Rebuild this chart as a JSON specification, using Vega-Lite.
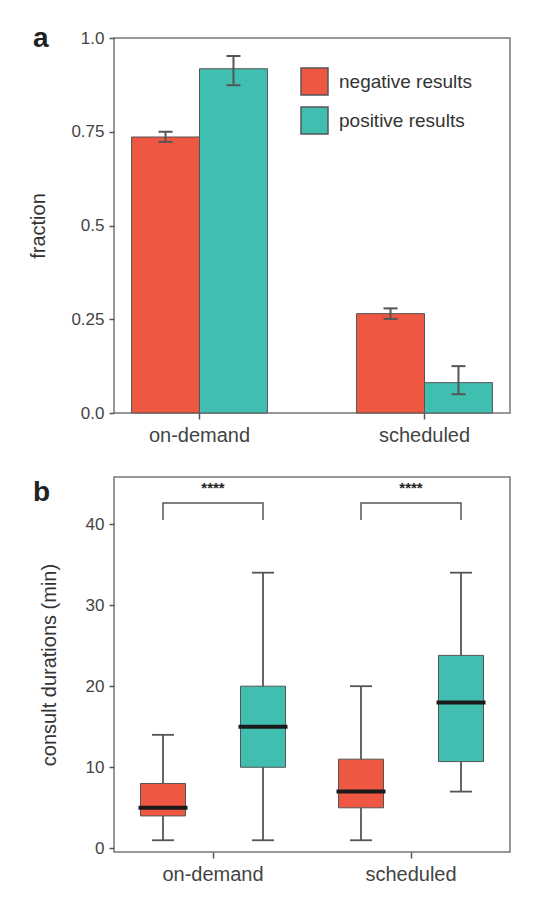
{
  "$schema": "https://vega.github.io/schema/vega-lite/v6.json",
  "padding": {"left": 28, "top": 24, "right": 0, "bottom": 0},
  "background": "white",
  "config": {
    "font": "Liberation Sans",
    "view": {"stroke": "#777", "strokeWidth": 1.5},
    "axis": {"grid": false, "domain": false, "tickColor": "#555", "tickWidth": 1.5, "labelColor": "#444", "titleColor": "#333", "titleFontWeight": "normal"},
    "title": {"color": "#222", "fontWeight": "bold", "anchor": "start", "frame": "group", "baseline": "alphabetic", "offset": 0}
  },
  "datasets": {
    "frac": [
      {"group": "on-demand", "result": "negative results", "fraction": 0.736, "lo": 0.723, "hi": 0.750},
      {"group": "on-demand", "result": "positive results", "fraction": 0.918, "lo": 0.874, "hi": 0.952},
      {"group": "scheduled", "result": "negative results", "fraction": 0.265, "lo": 0.251, "hi": 0.279},
      {"group": "scheduled", "result": "positive results", "fraction": 0.081, "lo": 0.050, "hi": 0.125}
    ],
    "dur": [
      {"group": "on-demand", "result": "negative results", "min": 1, "q1": 4, "median": 5, "q3": 8, "max": 14},
      {"group": "on-demand", "result": "positive results", "min": 1, "q1": 10, "median": 15, "q3": 20, "max": 34},
      {"group": "scheduled", "result": "negative results", "min": 1, "q1": 5, "median": 7, "q3": 11, "max": 20},
      {"group": "scheduled", "result": "positive results", "min": 7, "q1": 10.7, "median": 18, "q3": 23.8, "max": 34}
    ],
    "bracket": [
      {"group": "on-demand", "result": "negative results", "y": 40.5, "ord": 1},
      {"group": "on-demand", "result": "negative results", "y": 42.6, "ord": 2},
      {"group": "on-demand", "result": "positive results", "y": 42.6, "ord": 3},
      {"group": "on-demand", "result": "positive results", "y": 40.5, "ord": 4},
      {"group": "scheduled", "result": "negative results", "y": 40.5, "ord": 1},
      {"group": "scheduled", "result": "negative results", "y": 42.6, "ord": 2},
      {"group": "scheduled", "result": "positive results", "y": 42.6, "ord": 3},
      {"group": "scheduled", "result": "positive results", "y": 40.5, "ord": 4}
    ],
    "signif": [
      {"group": "on-demand", "label": "****", "y": 43.8},
      {"group": "scheduled", "label": "****", "y": 43.8}
    ]
  },
  "resolve": {"scale": {"color": "independent", "x": "independent", "y": "independent", "xOffset": "independent"}, "legend": {"color": "independent"}},
  "spacing": 30,
  "vconcat": [
    {
      "width": 396,
      "height": 375,
      "title": {"text": "a", "fontSize": 28, "dy": 28, "dx": -81},
      "data": {"name": "frac"},
      "encoding": {
        "x": {"field": "group", "type": "nominal", "scale": {"paddingInner": 0.396, "paddingOuter": 0.078},
              "axis": {"title": null, "labelAngle": 0, "labelFontSize": 20, "tickSize": 6, "labelPadding": 6}},
        "xOffset": {"field": "result", "type": "nominal", "scale": {"paddingInner": 0, "paddingOuter": 0}}
      },
      "layer": [
        {
          "mark": {"type": "bar", "stroke": "#555", "strokeWidth": 1},
          "encoding": {
            "y": {"field": "fraction", "type": "quantitative", "scale": {"domain": [0, 1], "nice": false},
                  "axis": {"title": "fraction", "titleFontSize": 20, "labelFontSize": 17, "tickSize": 5, "labelPadding": 5, "titlePadding": 22,
                           "values": [0, 0.25, 0.5, 0.75, 1],
                           "labelExpr": "datum.value == 0 ? '0.0' : datum.value == 1 ? '1.0' : format(datum.value, '~g')"}},
            "color": {"field": "result", "type": "nominal", "scale": {"domain": ["negative results", "positive results"], "range": ["#EE5741", "#40BFB1"]},
                      "legend": {"title": null, "orient": "none", "legendX": 186, "legendY": 29, "symbolType": "square", "symbolSize": 729,
                                 "symbolStrokeColor": "#555", "symbolStrokeWidth": 1.5, "symbolOpacity": 1, "labelFontSize": 19, "labelColor": "#333",
                                 "labelOffset": 10, "rowPadding": 6}}
          }
        },
        {
          "mark": {"type": "rule", "color": "#555", "strokeWidth": 2},
          "encoding": {"y": {"field": "lo", "type": "quantitative"}, "y2": {"field": "hi"}}
        },
        {
          "mark": {"type": "tick", "color": "#555", "thickness": 2, "size": 14, "opacity": 1},
          "encoding": {"y": {"field": "lo", "type": "quantitative"}}
        },
        {
          "mark": {"type": "tick", "color": "#555", "thickness": 2, "size": 14, "opacity": 1},
          "encoding": {"y": {"field": "hi", "type": "quantitative"}}
        }
      ]
    },
    {
      "width": 396,
      "height": 375,
      "title": {"text": "b", "fontSize": 28, "dy": 34, "dx": -81},
      "encoding": {
        "x": {"field": "group", "type": "nominal", "scale": {"paddingInner": 0, "paddingOuter": 0},
              "axis": {"title": null, "labelAngle": 0, "labelFontSize": 20, "tickSize": 6, "labelPadding": 6}},
        "xOffset": {"field": "result", "type": "nominal", "scale": {"paddingInner": 0.55, "paddingOuter": 0.265}}
      },
      "layer": [
        {
          "data": {"name": "dur"},
          "mark": {"type": "rule", "color": "#555", "strokeWidth": 1.8},
          "encoding": {
            "y": {"field": "min", "type": "quantitative", "scale": {"domain": [-0.45, 45.8], "nice": false, "zero": false},
                  "axis": {"title": "consult durations (min)", "titleFontSize": 20, "labelFontSize": 17, "tickSize": 5, "labelPadding": 5, "titlePadding": 26,
                           "values": [0, 10, 20, 30, 40]}},
            "y2": {"field": "max"}
          }
        },
        {
          "data": {"name": "dur"},
          "mark": {"type": "bar", "stroke": "#555", "strokeWidth": 1},
          "encoding": {
            "y": {"field": "q1", "type": "quantitative"},
            "y2": {"field": "q3"},
            "color": {"field": "result", "type": "nominal", "scale": {"domain": ["negative results", "positive results"], "range": ["#EE5741", "#40BFB1"]}, "legend": null}
          }
        },
        {
          "data": {"name": "dur"},
          "mark": {"type": "tick", "color": "#1a1a1a", "thickness": 4, "size": 49, "opacity": 1},
          "encoding": {"y": {"field": "median", "type": "quantitative"}}
        },
        {
          "data": {"name": "dur"},
          "mark": {"type": "tick", "color": "#555", "thickness": 1.8, "size": 22, "opacity": 1},
          "encoding": {"y": {"field": "min", "type": "quantitative"}}
        },
        {
          "data": {"name": "dur"},
          "mark": {"type": "tick", "color": "#555", "thickness": 1.8, "size": 22, "opacity": 1},
          "encoding": {"y": {"field": "max", "type": "quantitative"}}
        },
        {
          "data": {"name": "bracket"},
          "mark": {"type": "line", "color": "#555", "strokeWidth": 1.5},
          "encoding": {
            "y": {"field": "y", "type": "quantitative"},
            "detail": {"field": "group"},
            "order": {"field": "ord", "type": "quantitative"}
          }
        },
        {
          "data": {"name": "signif"},
          "mark": {"type": "text", "fontSize": 15, "fontWeight": "bold", "color": "#222", "baseline": "alphabetic"},
          "encoding": {
            "y": {"field": "y", "type": "quantitative"},
            "text": {"field": "label"},
            "xOffset": null
          }
        }
      ]
    }
  ]
}
